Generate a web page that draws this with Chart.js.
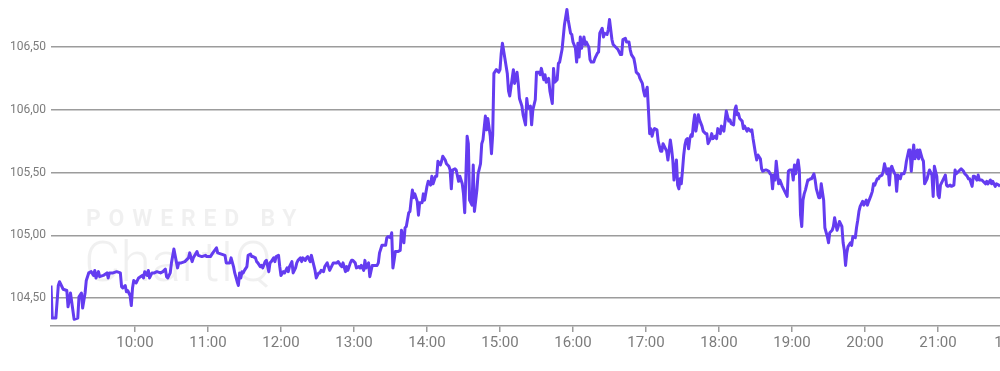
<!DOCTYPE html>
<html>
<head>
<meta charset="utf-8">
<script src="https://cdn.jsdelivr.net/npm/chart.js@4.4.1/dist/chart.umd.min.js"></script>
<style>
    html, body { margin: 0; padding: 0; overflow: hidden; background: #fff; }
    #wrap { width: 1040px; height: 371px; }
</style>
</head>
<body>
<div id="wrap"><canvas id="myChart"></canvas></div>
<script>
// minutes since midnight
const minutes = [
    531, 532, 535, 537, 538, 541, 544, 545, 547, 548,
    550, 553, 554, 556, 557, 559, 560, 562, 564, 566,
    567, 568, 570, 571, 574, 577, 578, 579, 582, 585,
    588, 589, 590, 592, 593, 594, 596, 597, 598, 599,
    601, 603, 606, 607, 608, 610, 611, 612, 614, 616,
    618, 621, 623, 625, 626, 627, 629, 630, 632, 634,
    635, 636, 638, 641, 644, 645, 647, 648, 651, 652,
    655, 658,
    659, 662, 664, 667, 668, 671, 674, 675, 678, 679,
    681, 682, 684, 685, 686, 687, 688, 689, 690, 692,
    693, 695, 696, 697, 699, 700, 701, 703, 704, 705,
    707, 708, 710, 711, 712, 714, 715, 716, 718, 719,
    720, 722, 723, 725, 726, 727, 729, 730, 732, 733,
    734, 736, 737, 738, 740, 741, 742, 744, 745, 747,
    748, 749, 751, 752, 753, 755, 756, 758, 759, 760,
    762, 763, 766, 767, 769, 770, 771, 773, 774, 775,
    777, 778, 779, 781, 782, 784, 785,
    786, 788, 789, 790, 792, 793, 795, 799, 800, 801,
    803, 806, 807, 808, 810, 811, 812, 813, 814, 816,
    818, 819, 821, 822, 823, 825, 826, 827, 828, 829,
    830, 832, 833, 834, 836, 837, 838, 840, 841, 843,
    844, 845, 847, 848, 849, 851, 852, 853, 855, 856,
    858, 859, 860, 861, 863, 864, 866, 867, 869, 870,
    871, 873, 874, 875, 877, 878, 879, 881, 882, 884,
    885, 886, 888, 889, 890, 892, 893, 894, 895, 897,
    899, 900, 901, 902, 904, 906, 907, 908,
    911, 912, 914, 915, 916, 918, 919, 921, 922, 923,
    925, 926, 927, 929, 930, 932, 933, 934, 936, 937,
    938, 940, 941, 943, 944, 945, 947, 948, 949, 951,
    952, 953, 955, 956, 958, 959, 960, 962, 963, 964,
    965, 966, 967, 969, 970, 971, 973, 974, 975, 977,
    978, 980, 981, 982, 984, 985, 986, 988, 989, 990,
    992, 993, 995, 996, 997, 999, 1000, 1001, 1003, 1004,
    1006, 1007, 1008, 1010, 1011, 1012, 1014, 1015, 1017, 1018,
    1019, 1021, 1022, 1023, 1024, 1025, 1026, 1027, 1029, 1030,
    1032, 1033, 1034, 1036, 1037, 1038, 1040,
    1041, 1042, 1043, 1044, 1045, 1046, 1047, 1048, 1049, 1050,
    1051, 1052, 1053, 1054, 1055, 1056, 1057, 1058, 1059, 1060,
    1061, 1062, 1063, 1064, 1066, 1067, 1069, 1070, 1071, 1073,
    1074, 1075, 1077, 1078, 1079, 1081, 1082, 1084, 1085, 1086,
    1088, 1089, 1090, 1092, 1093, 1094, 1095, 1096, 1097, 1099,
    1100, 1101, 1103, 1104, 1106, 1107, 1108, 1110, 1111, 1112,
    1114, 1115, 1116, 1118, 1119, 1121, 1122, 1123, 1124, 1125,
    1126, 1127, 1129, 1130, 1132, 1133, 1134, 1136, 1137, 1138,
    1140, 1141, 1142, 1143, 1145, 1146, 1147, 1148, 1149, 1150,
    1151, 1153, 1154, 1155, 1156, 1158, 1159, 1160, 1162, 1163,
    1164, 1166, 1167,
    1169, 1170, 1171, 1173, 1174, 1175, 1177, 1178, 1179, 1181,
    1182, 1183, 1184, 1185, 1186, 1188, 1189, 1190, 1192, 1193,
    1194, 1195, 1196, 1198, 1199, 1201, 1202, 1203, 1205, 1206,
    1207, 1208, 1210, 1211, 1212, 1214, 1215, 1216, 1218, 1219,
    1220, 1221, 1222, 1223, 1225, 1226, 1227, 1229, 1230, 1232,
    1233, 1234, 1236, 1237, 1238, 1240, 1241, 1243, 1244, 1245,
    1247, 1248, 1249, 1251, 1252, 1253, 1255, 1256, 1257, 1259,
    1260, 1261, 1262, 1264, 1266, 1267, 1268, 1270, 1271, 1273,
    1274, 1275, 1277, 1278, 1279, 1281, 1282, 1284, 1285, 1286,
    1288, 1289, 1290, 1292, 1293, 1294, 1296, 1297, 1299, 1300,
    1301, 1303, 1304, 1305, 1307, 1308, 1310, 1311
];

const prices = [
    104.60, 104.34, 104.34, 104.60, 104.63, 104.57, 104.56, 104.43, 104.54, 104.47,
    104.33, 104.34, 104.51, 104.54, 104.42, 104.54, 104.64, 104.70, 104.71, 104.68,
    104.72, 104.66, 104.71, 104.67, 104.68, 104.70, 104.66, 104.70, 104.70, 104.71,
    104.70, 104.59, 104.58, 104.60, 104.55, 104.56, 104.52, 104.44, 104.58, 104.64,
    104.62, 104.66, 104.68, 104.66, 104.71, 104.68, 104.72, 104.66, 104.70, 104.70,
    104.71, 104.70, 104.71, 104.73, 104.67, 104.66, 104.70, 104.78, 104.89, 104.79,
    104.74, 104.78, 104.78, 104.79, 104.82, 104.86, 104.79, 104.82, 104.87, 104.84,
    104.83, 104.84,
    104.83, 104.83, 104.86, 104.90, 104.86, 104.85, 104.84, 104.78, 104.78, 104.82,
    104.75, 104.70, 104.63, 104.60, 104.70, 104.66, 104.71, 104.70, 104.72, 104.75,
    104.84, 104.85, 104.83, 104.83, 104.82, 104.79, 104.78, 104.75, 104.76, 104.74,
    104.79, 104.80, 104.71, 104.78, 104.79, 104.82, 104.79, 104.83, 104.84, 104.75,
    104.68, 104.71, 104.70, 104.74, 104.71, 104.75, 104.79, 104.70, 104.74, 104.78,
    104.80, 104.82, 104.79, 104.82, 104.80, 104.82, 104.83, 104.79, 104.84, 104.76,
    104.72, 104.66, 104.70, 104.70, 104.72, 104.71, 104.75, 104.78, 104.75, 104.72,
    104.76, 104.78, 104.78, 104.79, 104.76, 104.75, 104.78, 104.71, 104.75, 104.72,
    104.78, 104.80, 104.80, 104.78, 104.74, 104.75, 104.74,
    104.76, 104.72, 104.80, 104.74, 104.78, 104.67, 104.76, 104.76, 104.78, 104.86,
    104.92, 104.92, 104.98, 104.99, 104.98, 105.02, 104.74, 104.80, 104.87, 104.87,
    104.88, 105.04, 104.94, 105.06, 105.07, 105.18, 105.19, 105.28, 105.36, 105.30,
    105.33, 105.27, 105.16, 105.26, 105.26, 105.33, 105.28, 105.39, 105.43, 105.40,
    105.47, 105.41, 105.47, 105.47, 105.59, 105.56, 105.59, 105.63, 105.60, 105.57,
    105.55, 105.52, 105.37, 105.52, 105.53, 105.52, 105.43, 105.47, 105.41, 105.33,
    105.18, 105.79, 105.73, 105.28, 105.24, 105.56, 105.19, 105.36, 105.49, 105.57,
    105.73, 105.76, 105.95, 105.84, 105.93, 105.79, 105.65, 105.80, 106.29, 106.32,
    106.30, 106.32, 106.45, 106.53, 106.41, 106.29, 106.15, 106.11,
    106.32, 106.21, 106.30, 106.21, 106.09, 106.03, 105.96, 105.88, 106.09, 106.01,
    106.03, 105.88, 106.00, 106.08, 106.30, 106.30, 106.28, 106.33, 106.24, 106.28,
    106.22, 106.25, 106.15, 106.05, 106.33, 106.22, 106.24, 106.37, 106.38, 106.48,
    106.58, 106.68, 106.80, 106.72, 106.61, 106.60, 106.54, 106.49, 106.38, 106.53,
    106.42, 106.58, 106.49, 106.58, 106.52, 106.54, 106.50, 106.40, 106.38, 106.38,
    106.41, 106.45, 106.46, 106.61, 106.65, 106.58, 106.61, 106.60, 106.64, 106.72,
    106.56, 106.52, 106.50, 106.49, 106.48, 106.44, 106.44, 106.56, 106.57, 106.54,
    106.54, 106.48, 106.44, 106.41, 106.36, 106.30, 106.28, 106.25, 106.21, 106.15,
    106.11, 106.18, 106.00, 105.81, 105.85, 105.79, 105.83, 105.85, 105.84, 105.75,
    105.67, 105.67, 105.73, 105.69, 105.67, 105.60, 105.76,
    105.69, 105.60, 105.44, 105.52, 105.60, 105.40, 105.37, 105.45, 105.41, 105.52,
    105.64, 105.72, 105.76, 105.77, 105.69, 105.77, 105.80, 105.79, 105.89, 105.96,
    105.83, 105.89, 105.96, 105.92, 105.87, 105.83, 105.81, 105.81, 105.73, 105.77,
    105.81, 105.77, 105.79, 105.77, 105.85, 105.81, 105.87, 105.83, 105.91, 105.99,
    105.91, 105.92, 105.89, 105.88, 106.00, 106.03, 105.96, 105.97, 105.93, 105.91,
    105.85, 105.87, 105.83, 105.85, 105.83, 105.84, 105.77, 105.65, 105.60, 105.64,
    105.61, 105.53, 105.51, 105.52, 105.52, 105.51, 105.49, 105.48, 105.37, 105.48,
    105.44, 105.59, 105.41, 105.44, 105.39, 105.37, 105.35, 105.31, 105.51, 105.52,
    105.52, 105.44, 105.56, 105.49, 105.60, 105.52, 105.16, 105.07, 105.28, 105.33,
    105.36, 105.44, 105.44, 105.45, 105.45, 105.49, 105.44, 105.37, 105.30, 105.30,
    105.41, 105.28, 105.06,
    104.99, 104.94, 105.02, 105.04, 105.07, 105.14, 105.04, 105.07, 105.11, 105.07,
    104.94, 104.88, 104.76, 104.86, 104.91, 104.94, 104.92, 104.99, 104.98, 105.06,
    105.12, 105.19, 105.23, 105.27, 105.24, 105.28, 105.24, 105.27, 105.32, 105.35,
    105.41, 105.40, 105.45, 105.45, 105.47, 105.48, 105.51, 105.57, 105.49, 105.53,
    105.40, 105.53, 105.55, 105.52, 105.48, 105.35, 105.48, 105.45, 105.49, 105.49,
    105.52, 105.59, 105.68, 105.68, 105.51, 105.72, 105.61, 105.68, 105.61, 105.68,
    105.61, 105.59, 105.41, 105.45, 105.49, 105.52, 105.48, 105.31, 105.55, 105.47,
    105.32, 105.30, 105.40, 105.44, 105.48, 105.40, 105.39, 105.40, 105.39, 105.40,
    105.52, 105.49, 105.51, 105.52, 105.53, 105.51, 105.49, 105.47, 105.45, 105.45,
    105.39, 105.47, 105.47, 105.44, 105.48, 105.44, 105.44, 105.43, 105.41, 105.43,
    105.41, 105.44, 105.41, 105.43, 105.39, 105.41, 105.40, 105.39
];

const hourTicks = [600, 660, 720, 780, 840, 900, 960, 1020, 1080, 1140, 1200, 1260, 1320];
const hourLabels = ['10:00', '11:00', '12:00', '13:00', '14:00', '15:00', '16:00',
    '17:00', '18:00', '19:00', '20:00', '21:00', '1\u2007\u2007\u2007'];
const priceTicks = [104.5, 105.0, 105.5, 106.0, 106.5];

const gridColor = '#9c9c9c';
const textColor = '#7c7c7c';

// faint vendor watermark behind the line
const watermark = {
    id: 'watermark',
    beforeDatasetsDraw(chart) {
        const ctx = chart.ctx;
        ctx.save();
        ctx.fillStyle = 'rgba(0, 0, 0, 0.06)';
        ctx.font = 'bold 23px Roboto';
        ctx.letterSpacing = '7.8px';
        ctx.fillText('POWERED BY', 86, 226);
        ctx.letterSpacing = '0px';
        ctx.font = '300 56px Roboto';
        ctx.fillText('ChartIQ', 84, 281);
        ctx.restore();
    }
};

const ctx = document.getElementById('myChart').getContext('2d');

new Chart(ctx, {
    type: 'line',
    data: {
        datasets: [{
            data: minutes.map((m, i) => ({ x: m, y: prices[i] })),
            borderColor: '#643cf0',
            borderWidth: 3,
            borderJoinStyle: 'round',
            pointRadius: 0,
            tension: 0,
            fill: false
        }]
    },
    options: {
        responsive: true,
        maintainAspectRatio: false,
        animation: false,
        layout: { padding: 0 },
        plugins: {
            legend: { display: false },
            tooltip: { enabled: false }
        },
        scales: {
            x: {
                type: 'linear',
                min: 531,
                max: 1343.8,
                afterBuildTicks: scale => {
                    scale.ticks = hourTicks.map(v => ({ value: v }));
                },
                afterFit: scale => {
                    scale.height = 45;
                    scale.paddingLeft = 0;
                    scale.paddingRight = 0;
                },
                ticks: {
                    autoSkip: false,
                    maxRotation: 0,
                    padding: 2,
                    color: textColor,
                    font: { family: 'Roboto', size: 15 },
                    callback: (value, index) => hourLabels[index]
                },
                grid: {
                    drawOnChartArea: false,
                    drawTicks: true,
                    tickLength: 6,
                    color: gridColor,
                    lineWidth: 1.5
                },
                border: { display: true, color: gridColor, width: 1.5 }
            },
            y: {
                min: 104.277,
                max: 106.875,
                afterBuildTicks: scale => {
                    scale.ticks = priceTicks.map(v => ({ value: v }));
                },
                afterFit: scale => {
                    scale.width = 51;
                    scale.paddingTop = 0;
                    scale.paddingBottom = 0;
                },
                ticks: {
                    padding: 5,
                    color: textColor,
                    font: { family: 'Roboto', size: 12 },
                    callback: value => value.toFixed(2).replace('.', ',')
                },
                grid: {
                    color: gridColor,
                    lineWidth: 1.5,
                    drawTicks: false
                },
                border: { display: false }
            }
        }
    },
    plugins: [watermark]
});
</script>
</body>
</html>
